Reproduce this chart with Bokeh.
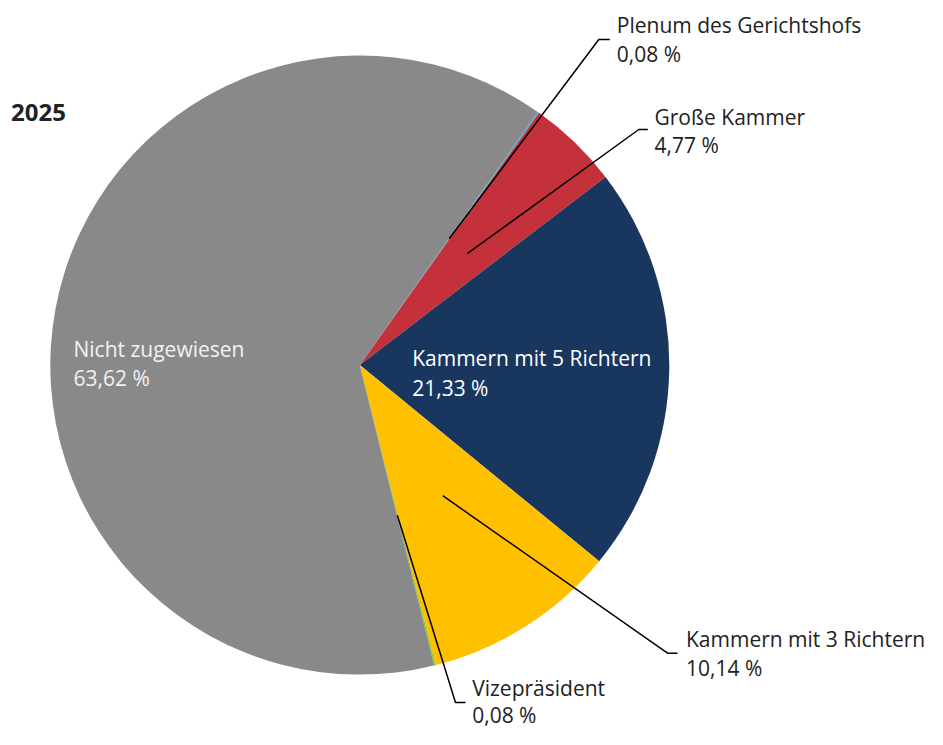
import math
from bokeh.plotting import figure
from bokeh.models import Range1d
from bokeh.core.properties import value
from bokeh.embed import file_html
from bokeh.resources import INLINE

# ---- data ----
title = "2025"
categories = ["Plenum des Gerichtshofs", "Große Kammer", "Kammern mit 5 Richtern",
              "Kammern mit 3 Richtern", "Vizepräsident", "Nicht zugewiesen"]
shares = [0.08, 4.77, 21.33, 10.14, 0.08, 63.62]
colors = ["#41a9de", "#c4313a", "#18365e", "#ffc000", "#7cc242", "#898989"]

# ---- layout (reference pixels, from the top-left corner) ----
W, H = 927, 729
CX, CY, R = 359.3, 364.6, 309.5
START_DEG = 35.1          # clockwise from 12 o'clock
FONT = "Open Sans"
FONT_PX = 21
TEXT_SHIFT = 0.38         # baseline correction, in em (text renders low otherwise)

# per category: (mode, text x, first baseline, second baseline, bend point, end point)
label_layout = [
    ("out", 616.3, 32.3, 61.5, (598.3, 39.0), (609.3, 39.0)),
    ("out", 654.0, 124.0, 152.7, (638.3, 129.0), (647.3, 129.0)),
    ("in", 411.7, 365.7, 395.0, None, None),
    ("out", 685.5, 646.0, 675.5, (667.0, 652.7), (677.0, 652.7)),
    ("out", 471.7, 695.5, 722.5, (455.0, 702.0), (465.0, 702.0)),
    ("in", 73.0, 356.7, 385.5, None, None),
]

def Y(y):
    return H - y

def YT(y, px):
    return H - (y - TEXT_SHIFT * px)

p = figure(width=W, height=H, title=None,
           x_range=Range1d(0, W), y_range=Range1d(0, H),
           output_backend="svg", toolbar_location=None, min_border=0,
           x_axis_type=None, y_axis_type=None)
p.grid.visible = False
p.outline_line_color = None
p.background_fill_color = "white"
p.border_fill_color = "white"

total = sum(shares)
acc = START_DEG
starts, ends, mids = [], [], []
for s in shares:
    a0 = acc
    a1 = acc + s / total * 360.0
    starts.append(a0)
    ends.append(a1)
    mids.append((a0 + a1) / 2)
    acc = a1

# wedges (Bokeh: radians, counter-clockwise from +x)
for a0, a1, c in zip(starts, ends, colors):
    p.wedge(x=CX, y=Y(CY), radius=R,
            start_angle=math.radians(90 - a0), end_angle=math.radians(90 - a1),
            direction="clock", fill_color=c, line_color=None)

def fmt(v):
    return f"{v:.2f}".replace(".", ",") + " %"

# labels
for cat, v, mid, lay in zip(categories, shares, mids, label_layout):
    mode, tx, ty1, ty2, bend, end = lay
    if mode == "out":
        sx = CX + R / 2 * math.sin(math.radians(mid))
        sy = CY - R / 2 * math.cos(math.radians(mid))
        p.line(x=[sx, bend[0], end[0]], y=[Y(sy), Y(bend[1]), Y(end[1])],
               line_color="#000000", line_width=1.5)
        col = "#222222"
    else:
        col = "#ffffff" if cat != "Nicht zugewiesen" else "#f2f2f2"
    p.text(x=[tx, tx], y=[YT(ty1, FONT_PX), YT(ty2, FONT_PX)], text=[cat, fmt(v)],
           text_font=value(FONT), text_font_size=f"{FONT_PX}px", text_color=col,
           text_baseline="alphabetic", text_align="left")

# title
p.text(x=[10.5], y=[YT(120.7, 24)], text=[title], text_font=value(FONT),
       text_font_size="24px", text_font_style="bold", text_color="#222222",
       text_baseline="alphabetic", text_align="left")

open("out.html", "w").write(file_html(p, INLINE))
